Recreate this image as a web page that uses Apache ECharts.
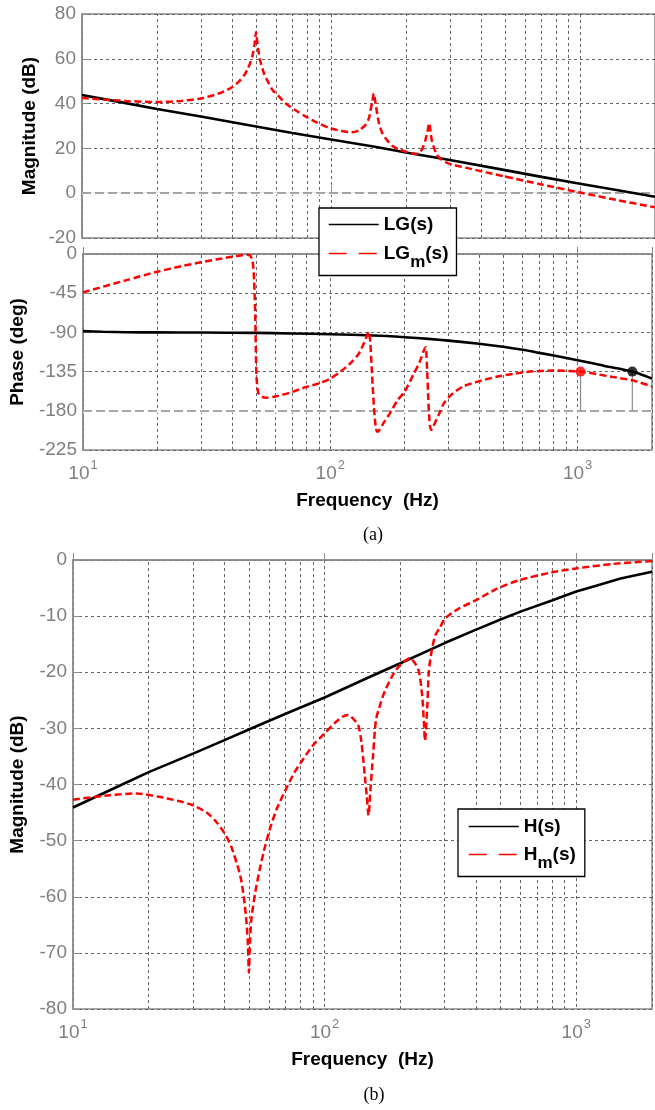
<!DOCTYPE html>
<html>
<head>
<meta charset="utf-8">
<script src="https://cdn.jsdelivr.net/npm/echarts@6/dist/echarts.min.js"></script>
<style>
  html, body { margin: 0; padding: 0; background: #fff; }
  #chart { width: 655px; height: 1110px; }
</style>
</head>
<body>
<div id="chart"></div>
<script>
// ---- frequency range and tick positions (Hz) ----
const freqRange = [10, 2000];
const minorFreqs = [20, 30, 40, 50, 60, 70, 80, 90, 200, 300, 400, 500, 600, 700, 800, 900];

// ---- y-axis ranges [min, max, step] ----
const magRangeA = [-20, 80, 20];
const phaseRangeA = [-225, 0, 45];
const magRangeB = [-80, 0, 10];

// ---- (a) loop gain magnitude, dB ----
const lgMagFreq = [10, 15, 20, 30, 50, 70, 100, 150, 200, 300, 500, 700, 1000, 1400, 2000];
const lgMag = [43.8, 40.2, 37.6, 34.2, 29.8, 26.9, 24.0, 20.7, 18.2, 14.8, 10.3, 7.3, 4.2, 1.4, -1.6];

const lgmMagFreq = [10, 15, 20, 25, 30, 35.6, 40, 42.9, 45, 46.3, 47.5, 48.5, 49.3, 50, 50.6, 51.2, 52, 54, 56, 58.3,
  62, 65.9, 72, 79.2, 88, 98.2, 110, 121.8, 130, 137.6, 142, 144.1, 146.5, 148.6, 150.5, 153.2, 156, 160.4, 167, 176,
  188, 199, 210, 221.5, 232, 239, 244, 248, 251, 254, 258, 265, 274.6, 290, 305.6, 350, 420, 500, 700, 1000, 1400, 2000];
const lgmMag = [42.5, 41.2, 40.7, 41.2, 42.3, 44.6, 47.3, 50.1, 53, 55.5, 58.5, 62, 66.5, 72, 67, 63, 59, 53, 49.5, 46,
  43, 40, 37, 34.2, 31.5, 29.2, 27.8, 27.2, 28.2, 30.5, 33.5, 37, 41, 44.5, 41, 35.6, 31, 27, 24, 21.2,
  19.5, 18.6, 17.9, 17.6, 19.5, 23.5, 27.5, 31.3, 27.5, 23.5, 21, 17.5, 15.4, 13.8, 12.8, 11.3, 9.3, 7.4, 3.9, 0.3, -3, -6.3];

// ---- (a) loop gain phase, deg ----
const lgPhFreq = [10, 12, 15, 20, 30, 50, 70, 100, 150, 200, 250, 300, 400, 500, 600, 700, 850, 1000, 1150, 1300,
  1480, 1665, 1830, 2000];
const lgPh = [-88.5, -89.2, -89.8, -90, -90.2, -90.6, -91.2, -92.1, -93.6, -95.5, -97.4, -99.4, -103, -106.5, -110, -113.5, -118, -122, -125.5, -128.8,
  -131.8, -135, -138.8, -143];

const lgmPhFreq = [10, 15, 20, 25, 30, 35, 40, 44, 46, 47.5, 48.5, 49.2, 49.7, 50, 50.3, 50.8, 51.5, 53, 55, 60,
  70, 80, 90, 100, 110, 120, 130, 137, 141, 143, 145, 147, 149, 151, 153, 155, 158, 165, 175, 187,
  200, 218, 230, 238, 243, 245, 247, 249, 251, 253, 256, 262, 275, 288, 310, 345, 400, 470, 550, 640,
  800, 1028, 1200, 1376, 1665, 2000];
const lgmPh = [-44, -30, -20.3, -14, -9.5, -6, -3.2, -1.5, -1, -2, -8, -30, -70, -110, -140, -155, -161, -164, -165, -163.5,
  -158.5, -152.5, -148.5, -143, -135, -126, -115, -102, -93, -89.5, -100, -130, -160, -185, -200, -204, -202, -193, -182, -168,
  -158, -137, -124, -112, -107, -118, -140, -165, -185, -197, -202, -197, -184, -171.5, -161, -152, -146, -141, -137.5, -135,
  -133.8, -135, -138, -141, -145, -152];

// phase-margin crossings: frequencies of LGm and LG at -135 deg, dropped to -180
const pmFreqs = [1028, 1665];
const pmPhase = -135;
const pmFloor = -180;

// ---- (b) H magnitude, dB ----
const hFreq = [10, 15, 20, 30, 40, 50, 70, 100, 150, 200, 300, 400, 500, 600, 800, 1000, 1200, 1500, 2000];
const hMag = [-44.1, -40.4, -37.8, -34.5, -32.1, -30.2, -27.4, -24.5, -20.9, -18.4, -14.8, -12.4, -10.6, -9.2, -7.2, -5.6, -4.6, -3.3, -2.1];

const hmFreq = [10, 14, 17.9, 22, 26, 30, 34, 37.5, 40, 42.5, 45, 46.5, 47.7, 48.7, 49.5, 50, 50.5, 51.3, 53.1, 55.6,
  58, 60.9, 65, 70.8, 76, 82.4, 90, 100, 110, 118, 124, 130, 136, 140, 144.5, 147, 149.5, 152, 155.8, 160,
  167, 173, 186.6, 202, 210, 218, 228, 237, 244, 248, 250.5, 256, 259.5, 266, 275.6, 288.4, 300, 340, 402, 480,
  593, 800, 1000, 1400, 2000];
const hmMag = [-42.7, -41.9, -41.6, -42.2, -42.9, -43.7, -45, -46.9, -48.7, -51, -54.4, -56.8, -60, -63.5, -68, -73.5, -68, -63.5, -59, -54.5,
  -51, -47.6, -44, -40.5, -37.8, -35.4, -33, -30.9, -29, -27.9, -27.6, -28.3, -29.4, -32.4, -38.5, -42, -45.5, -41, -34.8, -28.5,
  -25.5, -23.5, -20.5, -18.4, -17.9, -17.5, -18.3, -19.9, -24, -28.8, -32.2, -25.8, -19.9, -16.3, -13.4, -11.9, -10.5, -8.7, -7.1, -5.2,
  -3.6, -2.2, -1.5, -0.7, -0.2];

// ---- styling ----
const FONT = '"Liberation Sans", Arial, sans-serif';
const FRAME = '#8a8a8a';
const TICK_TEXT = '#7f7f7f';
const GRID_LINE = { color: '#666', width: 1, type: [3, 3] };
const RED = '#ff0000';

const zip = (xs, ys) => xs.map((x, i) => [x, ys[i]]);

function powerLabel(v) {
  const e = Math.round(Math.log10(v));
  if (Math.abs(Math.log10(v) - e) > 1e-6) return '';
  return '{b|10}{e|' + e + '}';
}

function xAxis(gridIndex, withLabels) {
  return {
    type: 'log', logBase: 10, gridIndex,
    min: freqRange[0], max: freqRange[1],
    axisLine: { show: true, lineStyle: { color: FRAME, width: 1.5 } },
    axisTick: { show: true, inside: true, length: 7, lineStyle: { color: FRAME } },
    axisLabel: {
      show: withLabels, margin: 9, formatter: powerLabel,
      rich: {
        b: { fontFamily: FONT, fontSize: 19, color: TICK_TEXT },
        e: { fontFamily: FONT, fontSize: 13, color: TICK_TEXT, padding: [0, 0, 17, 1] }
      }
    },
    splitLine: { show: true, lineStyle: GRID_LINE },
    name: withLabels ? 'Frequency  (Hz)' : '',
    nameLocation: 'middle', nameGap: 41, nameMoveOverlap: false,
    nameTextStyle: { fontFamily: FONT, fontSize: 19, fontWeight: 'bold', color: '#000' }
  };
}

function yAxis(gridIndex, range, name, gap) {
  return {
    type: 'value', gridIndex,
    min: range[0], max: range[1], interval: range[2],
    axisLine: { show: true, lineStyle: { color: FRAME, width: 1.5 } },
    axisTick: { show: true, inside: true, length: 7, lineStyle: { color: FRAME } },
    axisLabel: { margin: 6, fontFamily: FONT, fontSize: 19, color: TICK_TEXT },
    splitLine: { show: true, lineStyle: GRID_LINE },
    name, nameLocation: 'middle', nameGap: gap, nameRotate: 90, nameMoveOverlap: false,
    nameTextStyle: { fontFamily: FONT, fontSize: 19, fontWeight: 'bold', color: '#000' }
  };
}

// minor vertical grid lines (plus an optional long-dash reference level)
function gridDecor(axisIdx, refLevel) {
  const data = minorFreqs.map(f => ({ xAxis: f, lineStyle: GRID_LINE }));
  if (refLevel !== undefined) {
    data.push({ yAxis: refLevel, lineStyle: { color: '#fff', type: 'solid', width: 2.5 } });
    data.push({ yAxis: refLevel, lineStyle: { color: '#8a8a8a', type: [9, 4], width: 1.5 } });
  }
  return {
    type: 'line', xAxisIndex: axisIdx, yAxisIndex: axisIdx, data: [], silent: true, z: 1,
    markLine: { z: 1, silent: true, symbol: ['none', 'none'], label: { show: false },
      emphasis: { disabled: true }, animation: false, data }
  };
}

function curve(name, axisIdx, xs, ys, dashed, smooth) {
  return {
    name, type: 'line', xAxisIndex: axisIdx, yAxisIndex: axisIdx,
    data: zip(xs, ys), showSymbol: false, symbol: 'none', smooth,
    z: dashed ? 4 : 3,
    lineStyle: dashed ? { color: RED, width: 2.5, type: [7, 3.5] } : { color: '#000', width: 2.6 },
    itemStyle: { color: dashed ? RED : '#000' },
    emphasis: { disabled: true }
  };
}

const subNames = { 'LGm(s)': ['LG', 'm', '(s)'], 'Hm(s)': ['H', 'm', '(s)'] };
function legendText(name) {
  const p = subNames[name];
  return p ? '{n|' + p[0] + '}{m|' + p[1] + '}{n|' + p[2] + '}' : '{n|' + name + '}';
}
const legendTextStyle = {
  fontFamily: FONT, fontSize: 19, fontWeight: 'bold', color: '#000',
  rich: {
    n: { fontFamily: FONT, fontSize: 19, fontWeight: 'bold', color: '#000' },
    m: { fontFamily: FONT, fontSize: 17, fontWeight: 'bold', color: '#000', padding: [17, 0, 0, 0] }
  }
};
// legend entries show only the line sample, no marker
const noMarker = { opacity: 0, color: 'rgba(0,0,0,0)', borderWidth: 0 };
function legend(left, top, names, padding, gap) {
  return {
    orient: 'vertical', left, top, padding, itemGap: gap,
    itemWidth: 50, itemHeight: 14, selectedMode: false,
    backgroundColor: '#fff', borderColor: '#000', borderWidth: 1.3, borderRadius: 0,
    formatter: legendText, textStyle: legendTextStyle,
    data: [
      { name: names[0], itemStyle: noMarker, lineStyle: { color: '#000', width: 1.5, type: 'solid', opacity: 1 } },
      { name: names[1], itemStyle: noMarker, lineStyle: { color: RED, width: 1.5, type: [18, 12], opacity: 1 } }
    ]
  };
}

const chart = echarts.init(document.getElementById('chart'), null, { renderer: 'canvas' });
chart.setOption({
  animation: false,
  backgroundColor: '#fff',
  grid: [
    { left: 82, top: 14, width: 575, height: 224, show: true, borderColor: FRAME, borderWidth: 1.5 },
    { left: 82, top: 254, width: 575, height: 196, show: true, borderColor: FRAME, borderWidth: 1.5 },
    { left: 72, top: 560, width: 588, height: 449, show: true, borderColor: FRAME, borderWidth: 1.5 }
  ],
  xAxis: [xAxis(0, false), xAxis(1, true), xAxis(2, true)],
  yAxis: [
    yAxis(0, magRangeA, 'Magnitude (dB)', 43),
    yAxis(1, phaseRangeA, 'Phase (deg)', 56),
    yAxis(2, magRangeB, 'Magnitude (dB)', 46)
  ],
  legend: [
    legend(319, 208, ['LG(s)', 'LGm(s)'], [7, 8, 5, 9], 10),
    legend(458, 809, ['H(s)', 'Hm(s)'], [8, 9, 5, 10], 9)
  ],
  graphic: [
    { type: 'text', x: 373, y: 535, style: { text: '(a)', fontFamily: '"Liberation Serif", "Times New Roman", serif', fontSize: 18, fill: '#000', align: 'center', verticalAlign: 'middle' } },
    { type: 'text', x: 374, y: 1095, style: { text: '(b)', fontFamily: '"Liberation Serif", "Times New Roman", serif', fontSize: 18, fill: '#000', align: 'center', verticalAlign: 'middle' } }
  ],
  series: [
    gridDecor(0, 0),
    curve('LG(s)', 0, lgMagFreq, lgMag, false, false),
    curve('LGm(s)', 0, lgmMagFreq, lgmMag, true, 0.25),

    gridDecor(1, pmFloor),
    curve('LG(s)', 1, lgPhFreq, lgPh, false, 0.25),
    curve('LGm(s)', 1, lgmPhFreq, lgmPh, true, 0.25),
    // drop lines from the -135 deg crossings down to -180
    ...pmFreqs.map(f => ({
      type: 'line', xAxisIndex: 1, yAxisIndex: 1, silent: true, z: 2, symbol: 'none',
      data: [[f, pmFloor], [f, pmPhase]], lineStyle: { color: '#8a8a8a', width: 1.2 }
    })),
    {
      type: 'scatter', xAxisIndex: 1, yAxisIndex: 1, z: 6, silent: true, symbolSize: 10,
      data: [
        { value: [pmFreqs[0], pmPhase], itemStyle: { color: RED } },
        { value: [pmFreqs[1], pmPhase], itemStyle: { color: '#000' } }
      ]
    },

    gridDecor(2),
    curve('H(s)', 2, hFreq, hMag, false, false),
    curve('Hm(s)', 2, hmFreq, hmMag, true, 0.25)
  ]
});
</script>
</body>
</html>
